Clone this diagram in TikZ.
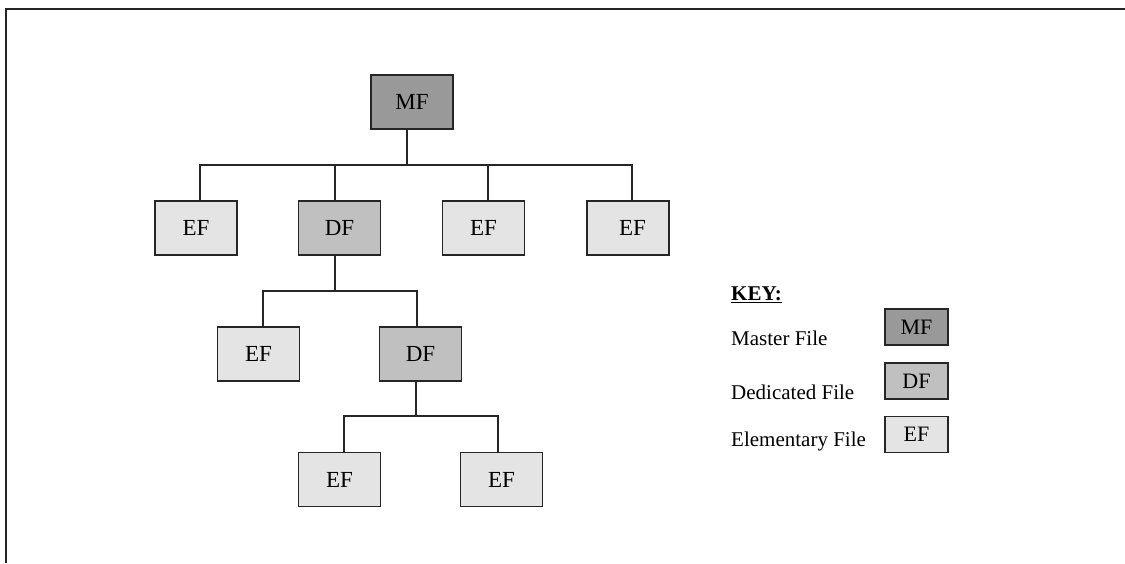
\documentclass[tikz,border=0pt]{standalone}
\usepackage{fontspec}
\setmainfont{Liberation Serif}
\usepackage{tikz}
\usetikzlibrary{positioning,calc}
\usepackage{xcolor}
\definecolor{mfgray}{HTML}{999999}
\definecolor{dfgray}{HTML}{C0C0C0}
\definecolor{efgray}{HTML}{E4E4E4}
\definecolor{linegray}{HTML}{262626}

\begin{document}
\begin{tikzpicture}[
    x=1pt, y=-1pt,
    filebox/.style={rectangle, draw=linegray, line width=1.8pt, minimum width=82pt, minimum height=54pt, inner sep=0pt, font=\fontsize{23}{25}\selectfont},
    master/.style={filebox, fill=mfgray},
    dedicated/.style={filebox, fill=dfgray},
    elementary/.style={filebox, fill=efgray},
    keybox/.style={minimum width=63pt, minimum height=36pt, font=\fontsize{22}{24}\selectfont},
    keytext/.style={anchor=base west, inner sep=0pt, font=\fontsize{21}{23}\selectfont},
    link/.style={draw=linegray, line width=1.7pt, line cap=rect}
]
\useasboundingbox (0,0) rectangle (1125,563);

% Frame
\draw[draw=linegray, line width=1.5pt] (1125,9) -- (6,9) -- (6,563);

% Tree
\node (mf) [master] at (412,102) {MF};
\node (ef1) [elementary] at (196,228) {EF};
\node (df1) [dedicated] at (339.5,228) {DF};
\node (ef2) [elementary] at (483.5,228) {EF};
\node (ef3) [elementary] at (628,228) {\hspace{9pt}EF};
\node (ef4) [elementary] at (258.5,354) {EF};
\node (df2) [dedicated] at (420.5,354) {DF};
\node (ef5) [elementary] at (339.5,479.5) {EF};
\node (ef6) [elementary] at (501.5,479.5) {EF};

% Connections
\coordinate (bus1) at (407,165);
\coordinate (bus2) at (335,291);
\coordinate (bus3) at (416,416);
\draw[link] ([xshift=-5pt]mf.south) -- (bus1);
\draw[link] ([xshift=4pt]ef1.north |- bus1) -- ([xshift=4pt]ef3.north |- bus1);
\foreach \n/\s in {ef1/4, df1/-4.5, ef2/4.5, ef3/4}
  \draw[link] ([xshift=\s pt]\n.north) -- ([xshift=\s pt]\n.north |- bus1);
\draw[link] ([xshift=-4.5pt]df1.south) -- (bus2);
\draw[link] ([xshift=4.5pt]ef4.north |- bus2) -- ([xshift=-3.5pt]df2.north |- bus2);
\foreach \n/\s in {ef4/4.5, df2/-3.5}
  \draw[link] ([xshift=\s pt]\n.north) -- ([xshift=\s pt]\n.north |- bus2);
\draw[link] ([xshift=-4.5pt]df2.south) -- (bus3);
\draw[link] ([xshift=4.5pt]ef5.north |- bus3) -- ([xshift=-3.5pt]ef6.north |- bus3);
\foreach \n/\s in {ef5/4.5, ef6/-3.5}
  \draw[link] ([xshift=\s pt]\n.north) -- ([xshift=\s pt]\n.north |- bus3);

% Key
\node (keytitle) [keytext, font=\fontsize{21}{23}\selectfont\bfseries] at (731,300) {\underline{KEY:}};
\node (mflabel) [keytext] at (731,345) {Master File};
\node (dflabel) [keytext] at (731,399) {Dedicated File};
\node (eflabel) [keytext] at (731,446) {Elementary File};
\node (keymf) [master, keybox] at (916.5,327) {MF};
\node (keydf) [dedicated, keybox] at (916.5,381) {DF};
\node (keyef) [elementary, keybox] at (916.5,434.5) {EF};

\end{tikzpicture}
\end{document}
